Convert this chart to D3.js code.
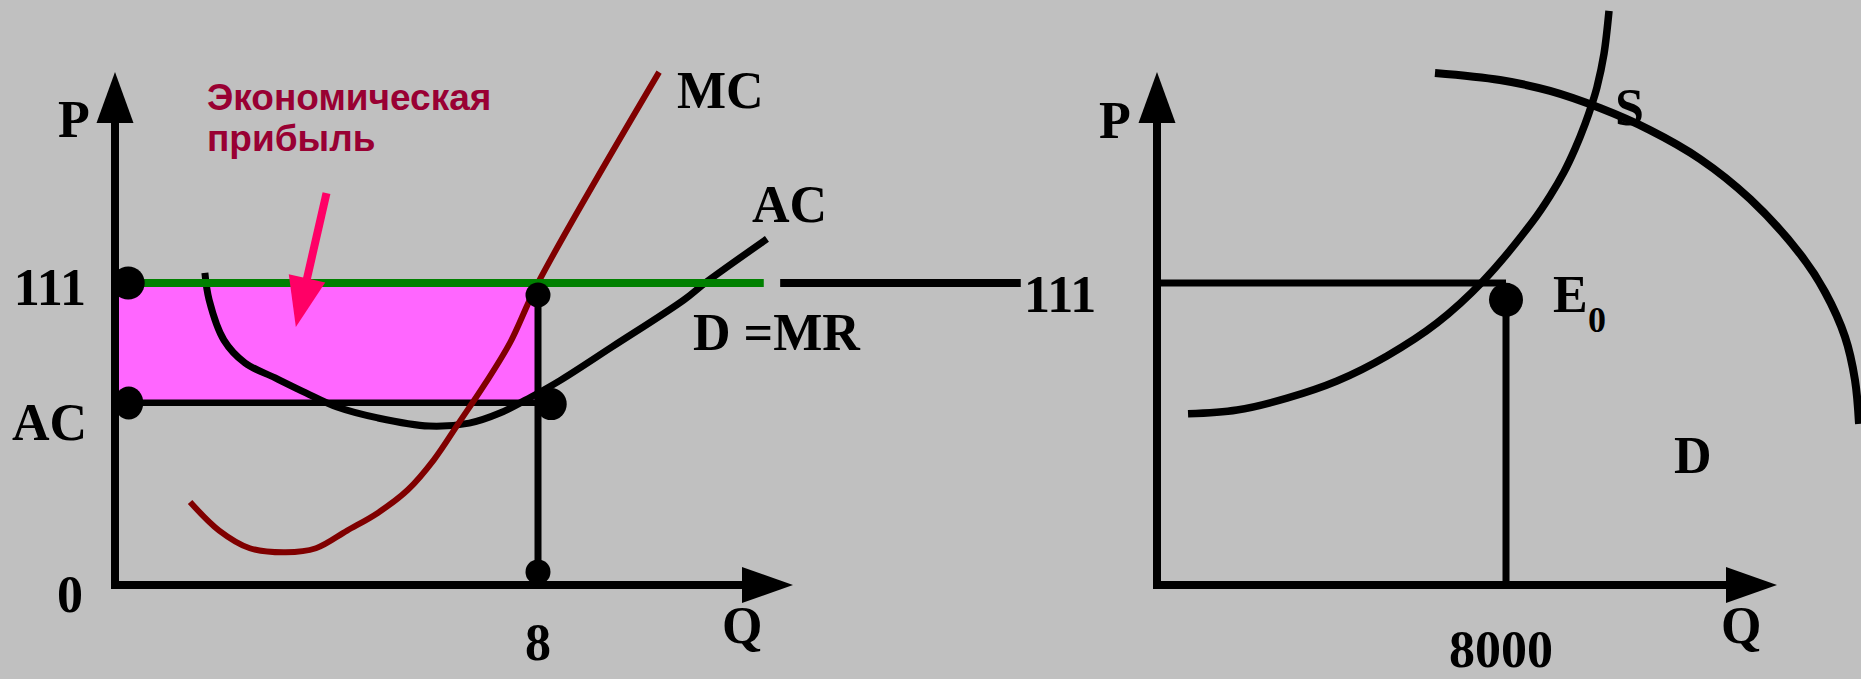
<!DOCTYPE html>
<html>
<head>
<meta charset="utf-8">
<script src="https://cdn.jsdelivr.net/npm/d3@7"></script>
<style>
  html, body { margin: 0; padding: 0; background: #c0c0c0; }
  svg { display: block; }
</style>
</head>
<body>
<svg id="chart" width="1861" height="679"></svg>
<script>
// ---------------- DATA ----------------
// Left panel: firm (Q in units, P in price units)
const priceLevel = 111;          // P = MR = D
const acLevel = 67;              // AC at optimum
const qOpt = 8;                  // firm output
const mcQ = [1.42, 1.97, 2.55, 3.23, 3.8, 4.39, 4.97, 5.54, 6.03, 6.5, 7.0, 7.47, 8.0, 10.29];
const mcP = [30.5, 20, 13.5, 12, 13.5, 20, 26.5, 35, 46, 59.5, 74, 89, 111, 188.5];
const acQ = [1.70, 1.78, 2.06, 2.46, 3.03, 3.61, 4.20, 4.97, 5.94, 6.70, 7.28, 7.87, 8.43, 9.40, 10.76, 11.16, 12.33];
const acP = [114.7, 104.8, 90.0, 81.6, 76.1, 70.6, 65.4, 61.4, 58.4, 59.5, 63.2, 69.1, 75.3, 87.5, 104.8, 111, 127.2];
const demandGreenQ = [0, 12.27];
const demandBlackQ = [12.58, 17.13];
const leftDotsQ = [0.25, 8, 0.26, 8.25, 8];
const leftDotsP = [111, 106.6, 66.9, 66.5, 4.8];
const arrowTail = [4.0, 144];
const arrowTip = [3.42, 94.8];

// Right panel: market
const qMarket = 8000;
const sQ = [711, 1834, 2980, 4126, 5272, 6418, 7473, 8619, 9009, 9330, 9582, 9811, 9971, 10086, 10246, 10361];
const sP = [62.9, 64.3, 68.7, 75.0, 84.2, 96.3, 111.7, 133.8, 143.0, 151.8, 160.3, 169.4, 176.8, 183.0, 195.2, 211.0];
const dQ = [6372, 7862, 9009, 10155, 11301, 12447, 13593, 14739, 15312, 15771, 16000, 16092];
const dP = [188.2, 185.6, 181.6, 175.3, 167.2, 156.6, 141.9, 121.7, 107.7, 91.2, 75.3, 59.2];
const eqDotP = 104.8;

// Tick / axis labels
const leftYLabels = ['111', 'AC', '0'];
const leftXLabels = ['8'];
const rightXLabels = ['8000'];
const profitLabel = ['Экономическая', 'прибыль'];

// ---------------- LAYOUT ----------------
const svg = d3.select('#chart');
const serif = "'Liberation Serif', 'Times New Roman', serif";
const sans = "'Liberation Sans', Arial, sans-serif";

const y = d3.scaleLinear().domain([0, 111]).range([585, 283]);
const xL = d3.scaleLinear().domain([0, 8]).range([115, 538]);
const xR = d3.scaleLinear().domain([0, 8000]).range([1157, 1506]);

const line = d3.line().curve(d3.curveCatmullRom.alpha(0.5));

function axes(x0, xTip, yTip) {
  const y0 = y(0);
  svg.append('line').attr('x1', x0).attr('y1', y0).attr('x2', x0).attr('y2', yTip + 50)
    .attr('stroke', '#000').attr('stroke-width', 8).attr('stroke-linecap', 'square');
  svg.append('line').attr('x1', x0).attr('y1', y0).attr('x2', xTip - 50).attr('y2', y0)
    .attr('stroke', '#000').attr('stroke-width', 8).attr('stroke-linecap', 'square');
  svg.append('path').attr('d', `M${x0},${yTip}L${x0 - 18.5},${yTip + 51}L${x0 + 18.5},${yTip + 51}Z`).attr('fill', '#000');
  svg.append('path').attr('d', `M${xTip},${y0}L${xTip - 51},${y0 - 18}L${xTip - 51},${y0 + 18}Z`).attr('fill', '#000');
}

// ---------------- LEFT PANEL ----------------
// profit rectangle
svg.append('rect')
  .attr('x', xL(0)).attr('y', y(priceLevel))
  .attr('width', xL(qOpt) - xL(0)).attr('height', y(acLevel) - y(priceLevel))
  .attr('fill', '#ff66ff');

axes(xL(0), 793, 72);

// AC horizontal
svg.append('line').attr('x1', xL(0)).attr('x2', xL(8.25)).attr('y1', y(acLevel)).attr('y2', y(acLevel))
  .attr('stroke', '#000').attr('stroke-width', 6.5);
// vertical at qOpt
svg.append('line').attr('x1', xL(qOpt)).attr('x2', xL(qOpt)).attr('y1', y(priceLevel)).attr('y2', y(0))
  .attr('stroke', '#000').attr('stroke-width', 7);

// AC curve
svg.append('path').attr('d', line(acQ.map((q, i) => [xL(q), y(acP[i])])))
  .attr('fill', 'none').attr('stroke', '#000').attr('stroke-width', 7);
// MC curve
svg.append('path').attr('d', line(mcQ.map((q, i) => [xL(q), y(mcP[i])])))
  .attr('fill', 'none').attr('stroke', '#800000').attr('stroke-width', 6);

// D = MR line
svg.append('line').attr('x1', xL(demandGreenQ[0])).attr('x2', xL(demandGreenQ[1]))
  .attr('y1', y(priceLevel)).attr('y2', y(priceLevel)).attr('stroke', '#008000').attr('stroke-width', 8);
svg.append('line').attr('x1', xL(demandBlackQ[0])).attr('x2', xL(demandBlackQ[1]))
  .attr('y1', y(priceLevel)).attr('y2', y(priceLevel)).attr('stroke', '#000').attr('stroke-width', 8);

// dots
const leftDotR = [[16.5, 16.5], [12.5, 12.5], [14.5, 16.5], [15.5, 16], [12.5, 12.5]];
svg.selectAll('.ldot').data(leftDotsQ).enter().append('ellipse')
  .attr('cx', (q) => xL(q)).attr('cy', (q, i) => y(leftDotsP[i]))
  .attr('rx', (q, i) => leftDotR[i][0]).attr('ry', (q, i) => leftDotR[i][1]).attr('fill', '#000');

// pink arrow
(function () {
  const tx = xL(arrowTail[0]), ty = y(arrowTail[1]);
  const hx = xL(arrowTip[0]), hy = y(arrowTip[1]);
  const dx = hx - tx, dy = hy - ty, len = Math.hypot(dx, dy);
  const ux = dx / len, uy = dy / len, px = -uy, py = ux;
  const headLen = 50, headW = 18.7;
  const bx = hx - ux * headLen, by = hy - uy * headLen;
  svg.append('line').attr('x1', tx).attr('y1', ty).attr('x2', bx + ux * 2).attr('y2', by + uy * 2)
    .attr('stroke', '#ff0066').attr('stroke-width', 8);
  svg.append('path').attr('d', `M${hx},${hy}L${bx + px * headW},${by + py * headW}L${bx - px * headW},${by - py * headW}Z`)
    .attr('fill', '#ff0066');
})();

// labels
const lbl = (t, x, yy, opts = {}) => svg.append('text').text(t).attr('x', x).attr('y', yy)
  .attr('font-family', opts.family || serif).attr('font-weight', 'bold')
  .attr('font-size', opts.size || 52).attr('fill', opts.fill || '#000')
  .attr('text-anchor', opts.anchor || 'start');

lbl('P', 58, 137);
lbl(leftYLabels[0], 86, 305, { anchor: 'end' });
lbl(leftYLabels[1], 12, 440);
lbl(leftYLabels[2], 57, 612);
lbl(leftXLabels[0], xL(qOpt), 660, { anchor: 'middle' });
lbl('Q', 722, 643);
lbl('MC', 677, 108);
lbl('AC', 752, 222);
lbl('D =MR', 693, 350);
lbl('111', 1024, 312);

lbl(profitLabel[0], 207, 110, { family: sans, size: 37, fill: '#990033' });
lbl(profitLabel[1], 207, 151, { family: sans, size: 37, fill: '#990033' });

// ---------------- RIGHT PANEL ----------------
axes(xR(0), 1777, 72);

svg.append('line').attr('x1', xR(0)).attr('x2', xR(qMarket)).attr('y1', y(priceLevel)).attr('y2', y(priceLevel))
  .attr('stroke', '#000').attr('stroke-width', 7);
svg.append('line').attr('x1', xR(qMarket)).attr('x2', xR(qMarket)).attr('y1', y(priceLevel)).attr('y2', y(0))
  .attr('stroke', '#000').attr('stroke-width', 7);

svg.append('path').attr('d', line(sQ.map((q, i) => [xR(q), y(sP[i])])))
  .attr('fill', 'none').attr('stroke', '#000').attr('stroke-width', 7.5);
svg.append('path').attr('d', line(dQ.map((q, i) => [xR(q), y(dP[i])])))
  .attr('fill', 'none').attr('stroke', '#000').attr('stroke-width', 8);

svg.append('circle').attr('cx', xR(qMarket)).attr('cy', y(eqDotP)).attr('r', 17).attr('fill', '#000');

lbl('P', 1099, 138);
lbl('S', 1615, 125);
lbl('E', 1553, 312);
lbl('0', 1588, 332, { size: 36 });
lbl('D', 1674, 473);
lbl(rightXLabels[0], 1501, 667, { anchor: 'middle' });
lbl('Q', 1721, 643);
</script>
</body>
</html>
